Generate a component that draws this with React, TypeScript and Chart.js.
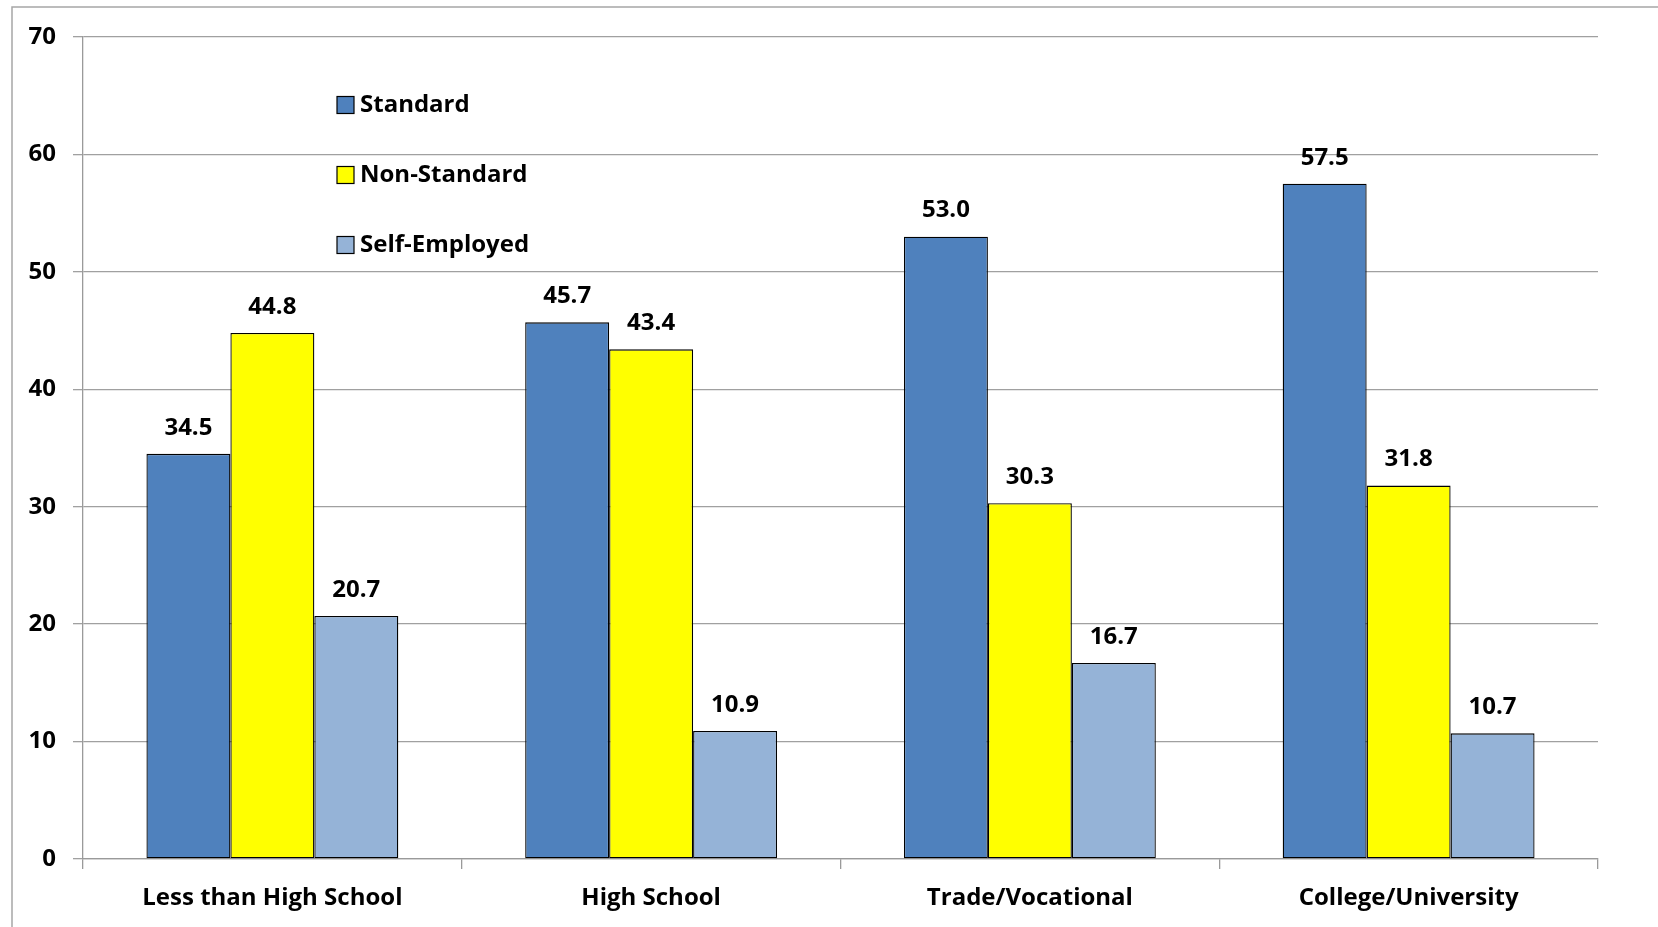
import React, { useEffect, useRef } from "react";
import { Chart, registerables } from "chart.js";

Chart.register(...registerables);

const categories = ["Less than High School", "High School", "Trade/Vocational", "College/University"];
const seriesNames = ["Standard", "Non-Standard", "Self-Employed"];
const standard = [34.5, 45.7, 53.0, 57.5];
const nonStandard = [44.8, 43.4, 30.3, 31.8];
const selfEmployed = [20.7, 10.9, 16.7, 10.7];
const yTicks = [0, 10, 20, 30, 40, 50, 60, 70];

const colors = ["#4F81BD", "#FFFF00", "#95B3D7"];
const FONT = "'Open Sans', Lato, sans-serif";
const FSIZE = 24;

const W = 1658;
const H = 927;

const framePlugin = {
  id: "frame",
  beforeDraw(chart: any) {
    const ctx = chart.ctx;
    ctx.save();
    ctx.fillStyle = "#ffffff";
    ctx.fillRect(0, 0, chart.width, chart.height);
    ctx.strokeStyle = "#a6a6a6";
    ctx.lineWidth = 1.5;
    ctx.beginPath();
    ctx.moveTo(12, chart.height + 5);
    ctx.lineTo(12, 7);
    ctx.lineTo(chart.width + 5, 7);
    ctx.stroke();
    ctx.restore();
  },
};

const valueLabelPlugin = {
  id: "valueLabels",
  afterDatasetsDraw(chart: any) {
    const ctx = chart.ctx;
    ctx.save();
    ctx.font = `bold ${FSIZE}px ${FONT}`;
    ctx.fillStyle = "#000000";
    ctx.textAlign = "center";
    ctx.textBaseline = "middle";
    chart.data.datasets.forEach((ds: any, di: number) => {
      const meta = chart.getDatasetMeta(di);
      meta.data.forEach((bar: any, i: number) => {
        const v = ds.data[i];
        ctx.fillText(Number(v).toFixed(1), bar.x, bar.y - 26);
      });
    });
    ctx.restore();
  },
};

const legendPlugin = {
  id: "customLegend",
  afterDraw(chart: any) {
    const ctx = chart.ctx;
    ctx.save();
    ctx.font = `bold ${FSIZE}px ${FONT}`;
    ctx.textAlign = "left";
    ctx.textBaseline = "middle";
    const rows = [105, 175, 245];
    chart.data.datasets.forEach((ds: any, i: number) => {
      const cy = rows[i];
      ctx.fillStyle = ds.backgroundColor;
      ctx.fillRect(337, cy - 8.5, 17, 17);
      ctx.strokeStyle = "#000000";
      ctx.lineWidth = 1.2;
      ctx.strokeRect(337, cy - 8.5, 17, 17);
      ctx.fillStyle = "#000000";
      ctx.fillText(ds.label, 360, cy);
    });
    ctx.restore();
  },
};

export default function App() {
  const ref = useRef<HTMLCanvasElement | null>(null);

  useEffect(() => {
    if (!ref.current) return;
    const seriesValues = [standard, nonStandard, selfEmployed];
    const chart = new Chart(ref.current, {
      type: "bar",
      data: {
        labels: categories,
        datasets: seriesNames.map((name, i) => ({
          label: name,
          data: seriesValues[i],
          backgroundColor: colors[i],
          borderColor: "#000000",
          borderWidth: 1.3,
          borderSkipped: false,
          categoryPercentage: 0.665,
          barPercentage: 1.0,
        })),
      },
      options: {
        responsive: false,
        animation: false,
        devicePixelRatio: 1,
        layout: { padding: { left: 0, top: 37, right: 60, bottom: 0 } },
        plugins: {
          legend: { display: false },
          tooltip: { enabled: false },
        },
        scales: {
          x: {
            grid: {
              display: true,
              drawOnChartArea: false,
              drawTicks: true,
              tickLength: 10,
              offset: true,
              color: "#9a9a9a",
              lineWidth: 1.3,
            },
            border: { display: true, color: "#9a9a9a", width: 1.3 },
            ticks: {
              color: "#000000",
              font: { family: FONT, size: FSIZE, weight: "bold" },
              padding: 15,
              maxRotation: 0,
              autoSkip: false,
            },
            afterFit(scale: any) {
              scale.height = 68;
            },
          },
          y: {
            min: 0,
            max: 70,
            afterBuildTicks(scale: any) {
              scale.ticks = yTicks.map((v) => ({ value: v }));
            },
            grid: {
              color: "#a0a0a0",
              lineWidth: 1.3,
              drawTicks: true,
              tickLength: 10,
            },
            border: { display: true, color: "#9a9a9a", width: 1.3 },
            ticks: {
              color: "#000000",
              font: { family: FONT, size: FSIZE, weight: "bold" },
              padding: 17,
            },
            afterFit(scale: any) {
              scale.width = 83;
            },
          },
        },
      },
      plugins: [framePlugin, valueLabelPlugin, legendPlugin],
    });
    return () => chart.destroy();
  }, []);

  return (
    <div style={{ position: "absolute", left: 0, top: 0, width: W, height: H, background: "#fff" }}>
      <canvas ref={ref} width={W} height={H} style={{ display: "block", width: W, height: H }} />
    </div>
  );
}
